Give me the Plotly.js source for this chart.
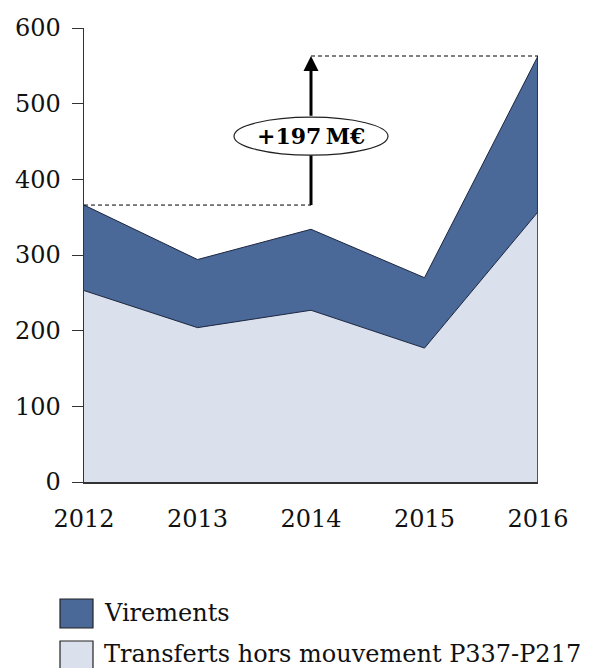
<!DOCTYPE html>
<html><head><meta charset="utf-8">
<script src="https://cdn.plot.ly/plotly-3.0.1.min.js"></script>
<style>html,body{margin:0;padding:0;background:#fff}#chart{width:602px;height:668px}</style>
</head><body><div id="chart"></div>
<script>
const years = [2012, 2013, 2014, 2015, 2016];
const transferts = [253, 204, 227, 177, 357];
const virements = [113, 90, 107, 93, 206];
const yTicks = [0, 100, 200, 300, 400, 500, 600];
const seriesNames = ['Virements', 'Transferts hors mouvement P337-P217'];
const deltaLabel = '+197\u202FM\u20AC';
const labelY = 457;

const totals = transferts.map((v, i) => v + virements[i]);
const dark = '#4a6898', light = '#dae0ec', edge = '#1c2640';
const serif = 'DejaVu Serif, Liberation Serif, serif';

const traces = [
  {x: years, y: transferts, type: 'scatter', mode: 'lines', stackgroup: 'one',
   line: {color: edge, width: 1}, fillcolor: light, name: seriesNames[1], hoverinfo: 'skip'},
  {x: years, y: virements, type: 'scatter', mode: 'lines', stackgroup: 'one',
   line: {color: edge, width: 1}, fillcolor: dark, name: seriesNames[0], hoverinfo: 'skip'}
];

const px = (p) => (p - 84) / 454;       // pixel x -> paper
const py = (p) => (482 - p) / 454;      // pixel y -> paper

const shapes = [
  {type: 'line', xref: 'x', yref: 'y', x0: years[4], x1: years[4], y0: 0, y1: totals[4], line: {color: edge, width: 1.5}},
  {type: 'line', xref: 'x', yref: 'y', x0: years[0], x1: years[2], y0: totals[0], y1: totals[0], line: {color: '#000', width: 1, dash: '4px,3px'}},
  {type: 'line', xref: 'x', yref: 'y', x0: years[2], x1: years[4], y0: totals[4], y1: totals[4], line: {color: '#000', width: 1, dash: '4px,3px'}},
  {type: 'line', xref: 'x', yref: 'y', x0: years[2], x1: years[2], y0: totals[0], y1: labelY, line: {color: '#000', width: 3}},
  {type: 'circle', xref: 'x', yref: 'y', xsizemode: 'pixel', ysizemode: 'pixel', xanchor: years[2], yanchor: labelY,
   x0: -77, x1: 77, y0: -19, y1: 19, fillcolor: '#fff', line: {color: '#222', width: 1.2}},
  // legend boxes
  {type: 'rect', xref: 'paper', yref: 'paper', x0: px(60), x1: px(93), y0: py(599), y1: py(628), fillcolor: dark, line: {color: '#222', width: 1.2}},
  {type: 'rect', xref: 'paper', yref: 'paper', x0: px(60), x1: px(93), y0: py(641), y1: py(671), fillcolor: light, line: {color: '#222', width: 1.2}}
];

const annotations = [
  {x: years[2], y: totals[4], ax: years[2], ay: labelY, axref: 'x', ayref: 'y', xref: 'x', yref: 'y',
   showarrow: true, arrowhead: 2, arrowsize: 1, arrowwidth: 3, arrowcolor: '#000', startstandoff: 19, text: ''},
  {x: years[2], y: labelY, xref: 'x', yref: 'y', showarrow: false, text: '<b>' + deltaLabel + '</b>',
   font: {family: serif, size: 22, color: '#000'}},
  {x: px(102), y: py(613), xref: 'paper', yref: 'paper', xanchor: 'left', yanchor: 'middle', showarrow: false,
   text: seriesNames[0], font: {family: serif, size: 24, color: '#111'}},
  {x: px(102), y: py(654), xref: 'paper', yref: 'paper', xanchor: 'left', yanchor: 'middle', showarrow: false,
   text: seriesNames[1], font: {family: serif, size: 24, color: '#111'}}
];

const layout = {
  width: 602, height: 668,
  margin: {l: 84, r: 64, t: 28, b: 186},
  paper_bgcolor: '#fff', plot_bgcolor: '#fff',
  showlegend: false,
  xaxis: {range: [years[0], years[4]], tickvals: years, ticktext: years.map(String),
    showgrid: false, zeroline: false, showline: true, linecolor: '#333', linewidth: 1.5,
    ticks: 'outside', ticklen: 15, tickcolor: 'rgba(0,0,0,0)',
    tickfont: {family: serif, size: 24, color: '#111'}},
  yaxis: {range: [0, 600], tickvals: yTicks, showgrid: false, zeroline: false,
    showline: true, linecolor: '#333', linewidth: 1.5, ticks: 'outside', ticklen: 11, tickcolor: '#333', tickwidth: 1,
    ticklabelstandoff: 6, tickfont: {family: serif, size: 24, color: '#111'}},
  shapes: shapes,
  annotations: annotations
};

Plotly.newPlot('chart', traces, layout, {displayModeBar: false, staticPlot: true});
</script></body></html>
